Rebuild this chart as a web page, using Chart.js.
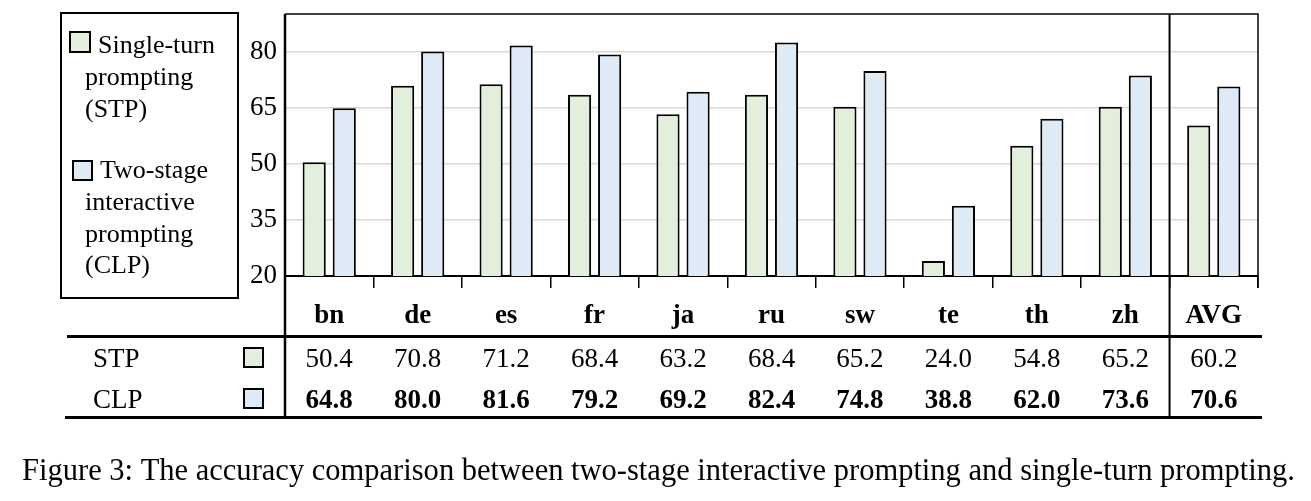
<!DOCTYPE html>
<html>
<head>
<meta charset="utf-8">
<script src="https://cdn.jsdelivr.net/npm/chart.js@4.4.0/dist/chart.umd.min.js"></script>
<style>
  html, body { margin: 0; padding: 0; background: #fff; }
  #wrap { width: 1311px; height: 501px; position: relative; }
</style>
</head>
<body>
<div id="wrap"><canvas id="myChart"></canvas></div>
<script>
// data
const categories = ['bn', 'de', 'es', 'fr', 'ja', 'ru', 'sw', 'te', 'th', 'zh', 'AVG'];
const stpValues = [50.4, 70.8, 71.2, 68.4, 63.2, 68.4, 65.2, 24.0, 54.8, 65.2, 60.2];
const clpValues = [64.8, 80.0, 81.6, 79.2, 69.2, 82.4, 74.8, 38.8, 62.0, 73.6, 70.6];
const yTicks = [20, 35, 50, 65, 80];
const rowNames = ['STP', 'CLP'];
const legendLines = [
  ['Single-turn', 'prompting', '(STP)'],
  ['Two-stage', 'interactive', 'prompting', '(CLP)']
];
const captionText = 'Figure 3: The accuracy comparison between two-stage interactive prompting and single-turn prompting.';

const SERIF = '"Liberation Serif", "Times New Roman", serif';
const GREEN = '#e2efda';
const BLUE = '#deebf7';

function fmt(v) { return v.toFixed(1); }

const tablePlugin = {
  id: 'tablePlugin',
  afterDraw(chart) {
    const ctx = chart.ctx;
    const area = chart.chartArea;
    const x = chart.scales.x;
    ctx.save();
    ctx.strokeStyle = '#000';

    // plot frame top + right
    ctx.lineWidth = 1.5;
    ctx.beginPath();
    ctx.moveTo(area.left, area.top);
    ctx.lineTo(area.right, area.top);
    ctx.lineTo(area.right, area.bottom + 12);
    ctx.stroke();

    // left vertical line down through the table
    const tableBottom = 418;
    ctx.lineWidth = 2.5;
    ctx.beginPath();
    ctx.moveTo(area.left, area.top);
    ctx.lineTo(area.left, tableBottom);
    ctx.stroke();

    // separator before AVG
    const sepX = (x.getPixelForValue(9) + x.getPixelForValue(10)) / 2;
    ctx.lineWidth = 2;
    ctx.beginPath();
    ctx.moveTo(sepX, area.top);
    ctx.lineTo(sepX, tableBottom);
    ctx.stroke();

    // table rules
    ctx.lineWidth = 3;
    ctx.beginPath();
    ctx.moveTo(67, 336.5);
    ctx.lineTo(1262, 336.5);
    ctx.moveTo(65, 417.5);
    ctx.lineTo(1262, 417.5);
    ctx.stroke();

    // table rows
    const rows = [stpValues, clpValues];
    const fills = [GREEN, BLUE];
    const baselines = [367, 408];
    ctx.textBaseline = 'alphabetic';
    rows.forEach((vals, r) => {
      ctx.fillStyle = '#000';
      ctx.textAlign = 'left';
      ctx.font = '27px ' + SERIF;
      ctx.fillText(rowNames[r], 93, baselines[r]);
      // little swatch
      ctx.fillStyle = fills[r];
      ctx.fillRect(244, baselines[r] - 19, 19, 19);
      ctx.lineWidth = 2;
      ctx.strokeRect(244, baselines[r] - 19, 19, 19);
      ctx.fillStyle = '#000';
      ctx.textAlign = 'center';
      ctx.font = (r === 1 ? 'bold ' : '') + '27px ' + SERIF;
      vals.forEach((v, i) => {
        ctx.fillText(fmt(v), x.getPixelForValue(i), baselines[r]);
      });
    });

    // legend box
    ctx.lineWidth = 2;
    ctx.strokeRect(61, 13, 177, 285);
    const swatches = [[70, 32, 20, 20], [73, 161, 19, 19]];
    const firstBase = [53.3, 178.3];
    const firstX = [98, 100];
    ctx.font = '26px ' + SERIF;
    ctx.textAlign = 'left';
    legendLines.forEach((lines, k) => {
      const s = swatches[k];
      ctx.fillStyle = fills[k];
      ctx.fillRect(s[0], s[1], s[2], s[3]);
      ctx.strokeRect(s[0], s[1], s[2], s[3]);
      ctx.fillStyle = '#000';
      lines.forEach((t, j) => {
        ctx.fillText(t, j === 0 ? firstX[k] : 85, firstBase[k] + j * 31.6);
      });
    });

    // caption, fitted to the figure width
    ctx.font = '100px ' + SERIF;
    const w = ctx.measureText(captionText).width;
    const size = 100 * 1273 / w;
    ctx.font = size.toFixed(2) + 'px ' + SERIF;
    ctx.fillText(captionText, 22, 480);

    ctx.restore();
  }
};

const ctx = document.getElementById('myChart').getContext('2d');
new Chart(ctx, {
  type: 'bar',
  data: {
    labels: categories,
    datasets: [
      {
        label: 'Single-turn prompting (STP)',
        data: stpValues,
        backgroundColor: GREEN,
        borderColor: '#000',
        borderWidth: 2,
        categoryPercentage: 0.68,
        barPercentage: 0.77
      },
      {
        label: 'Two-stage interactive prompting (CLP)',
        data: clpValues,
        backgroundColor: BLUE,
        borderColor: '#000',
        borderWidth: 2,
        categoryPercentage: 0.68,
        barPercentage: 0.77
      }
    ]
  },
  options: {
    responsive: true,
    maintainAspectRatio: false,
    animation: false,
    layout: { padding: { left: 240, right: 53, top: 14, bottom: 164 } },
    plugins: { legend: { display: false }, tooltip: { enabled: false } },
    scales: {
      x: {
        offset: true,
        grid: { display: true, offset: true, drawOnChartArea: false, tickLength: 12, color: '#000', lineWidth: 1.5 },
        border: { display: true, color: '#000', width: 2 },
        ticks: {
          color: '#000',
          padding: 12,
          maxRotation: 0,
          autoSkip: false,
          font: { family: SERIF, size: 27, weight: 'bold' }
        },
        afterFit(scale) {
          scale.height = 61;
          scale.paddingLeft = 0;
          scale.paddingRight = 0;
        }
      },
      y: {
        min: 20,
        max: 90,
        grid: { color: '#d9d9d9', lineWidth: 1.5, drawTicks: false },
        border: { display: false },
        ticks: {
          color: '#000',
          padding: 8,
          font: { family: SERIF, size: 27 }
        },
        afterBuildTicks(scale) { scale.ticks = yTicks.map(v => ({ value: v })); },
        afterFit(scale) {
          scale.width = 45;
          scale.paddingTop = 0;
          scale.paddingBottom = 0;
        }
      }
    }
  },
  plugins: [tablePlugin]
});
</script>
</body>
</html>
